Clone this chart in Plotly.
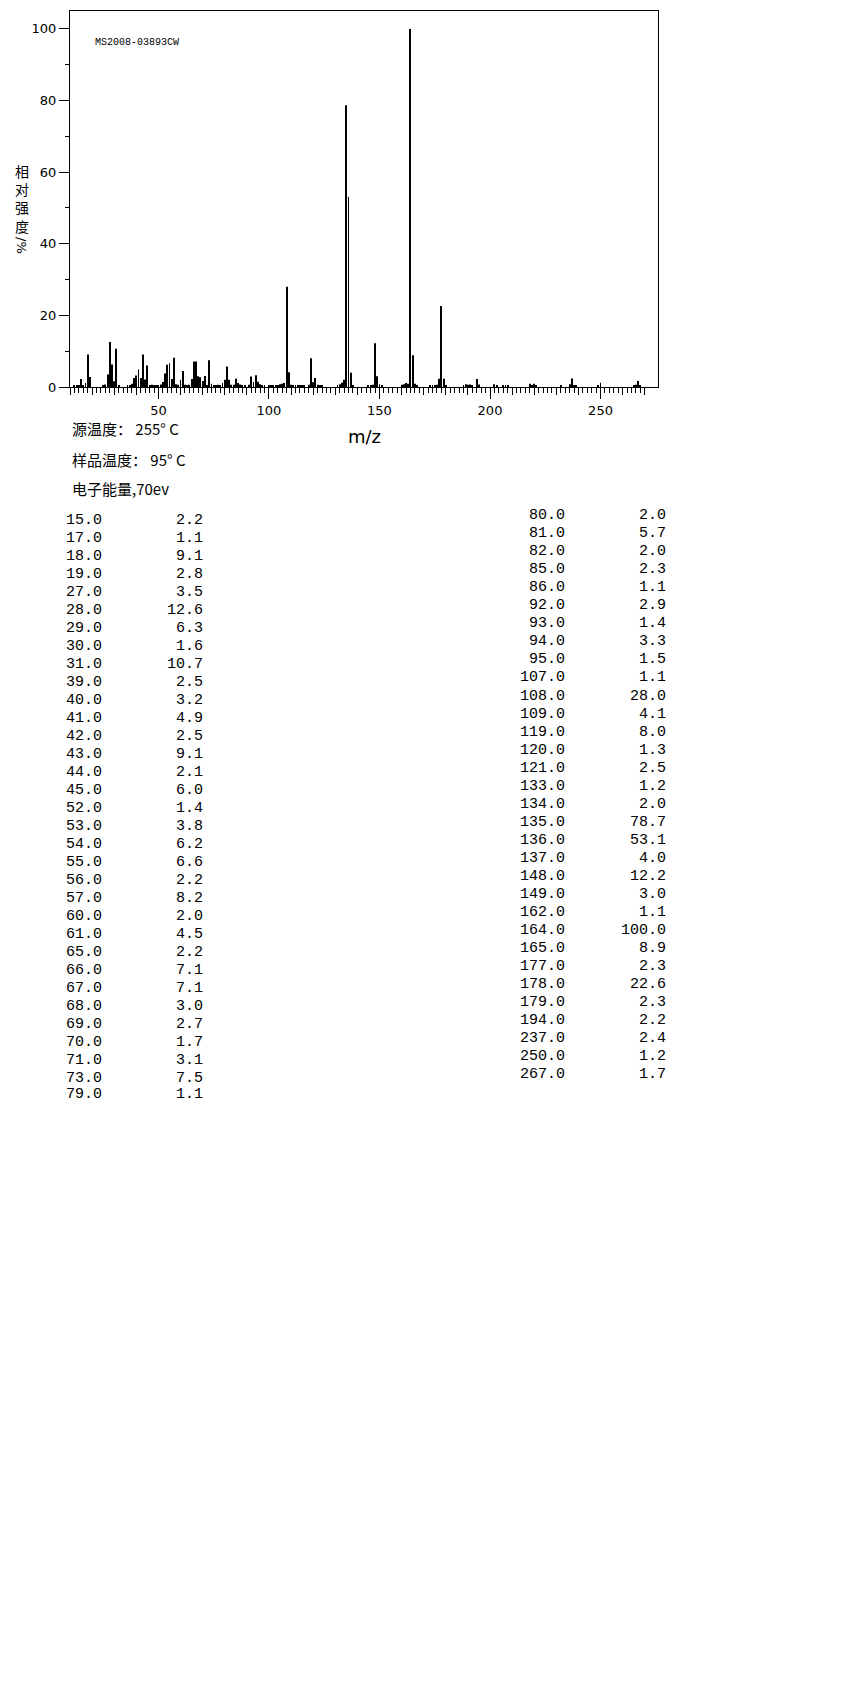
import plotly.graph_objects as go

# peak list as printed in the table (m/z, relative intensity %)
mz_left = [15, 17, 18, 19, 27, 28, 29, 30, 31, 39, 40, 41, 42, 43, 44, 45, 52, 53,
           54, 55, 56, 57, 60, 61, 65, 66, 67, 68, 69, 70, 71, 73, 79]
int_left = [2.2, 1.1, 9.1, 2.8, 3.5, 12.6, 6.3, 1.6, 10.7, 2.5, 3.2, 4.9, 2.5, 9.1, 2.1,
            6.0, 1.4, 3.8, 6.2, 6.6, 2.2, 8.2, 2.0, 4.5, 2.2, 7.1, 7.1, 3.0, 2.7, 1.7,
            3.1, 7.5, 1.1]
mz_right = [80, 81, 82, 85, 86, 92, 93, 94, 95, 107, 108, 109, 119, 120, 121, 133, 134,
            135, 136, 137, 148, 149, 162, 164, 165, 177, 178, 179, 194, 237, 250, 267]
int_right = [2.0, 5.7, 2.0, 2.3, 1.1, 2.9, 1.4, 3.3, 1.5, 1.1, 28.0, 4.1, 8.0, 1.3, 2.5,
             1.2, 2.0, 78.7, 53.1, 4.0, 12.2, 3.0, 1.1, 100.0, 8.9, 2.3, 22.6, 2.3, 2.2,
             2.4, 1.2, 1.7]

# small peaks (< 1 %)
mz_small = [12, 13, 14, 16, 25, 26, 32, 36, 37, 38, 46, 47, 48, 49, 50, 51, 58, 59, 62,
            63, 64, 72, 74, 75, 76, 77, 78, 83, 84, 87, 88, 89, 91, 96, 97, 98, 100, 101,
            102, 103, 104, 105, 106, 110, 111, 112, 113, 114, 115, 116, 118, 122, 123,
            124, 131, 132, 138, 145, 146, 147, 150, 151, 160, 161, 163, 166, 167, 173,
            174, 175, 176, 180, 188, 189, 190, 191, 192, 195, 202, 203, 206, 207, 208,
            218, 219, 220, 221, 232, 236, 238, 239, 249, 265, 266, 268]
int_small = [0.4, 0.4, 0.4, 0.4, 0.3, 0.7, 0.5, 0.4, 0.5, 0.9, 0.5, 0.6, 0.4, 0.5, 0.5,
             0.7, 0.8, 0.6, 0.6, 0.4, 0.6, 0.5, 0.9, 0.4, 0.5, 0.6, 0.5, 0.6, 0.6, 0.7,
             0.4, 0.4, 0.6, 0.8, 0.5, 0.3, 0.4, 0.4, 0.4, 0.5, 0.5, 0.8, 0.9, 0.6, 0.4,
             0.4, 0.4, 0.5, 0.4, 0.4, 0.6, 0.6, 0.4, 0.4, 0.5, 0.8, 0.5, 0.4, 0.4, 0.6,
             0.8, 0.5, 0.6, 0.8, 0.9, 0.9, 0.4, 0.5, 0.4, 0.4, 0.6, 0.4, 0.5, 0.8, 0.6,
             0.7, 0.5, 0.7, 0.8, 0.4, 0.4, 0.4, 0.4, 0.9, 0.5, 0.9, 0.4, 0.4, 0.8, 0.5,
             0.4, 0.4, 0.4, 0.6, 0.5]

y_ticks = [0, 20, 40, 60, 80, 100]
x_ticks = [50, 100, 150, 200, 250]
sample_id = "MS2008-03893CW"
ylabel_chars = ["相", "对", "强", "度"]
info_lines = ["源温度： 255° C", "样品温度： 95° C", "电子能量,70ev"]

mz_all = mz_left + mz_right + mz_small
int_all = int_left + int_right + int_small

# plot area in page pixels; the html body adds an 8px margin around the figure
OFF = 8
L, T, W, H = 70, 11, 588, 376
FIG_W, FIG_H = 850 - OFF, 1701 - OFF


def fx(px):
    return (px - L) / W


def fy(py):
    return (T + H - py) / H


fig = go.Figure()
fig.add_trace(go.Bar(x=mz_all, y=int_all, width=0.4, marker_color="black",
                     marker_line_width=0, hoverinfo="x+y"))
# dummy trace so the overlaid axis with the 10-unit ticks gets drawn
fig.add_trace(go.Scatter(x=[mz_all[0]], y=[0], xaxis="x2", mode="markers",
                         marker_opacity=0, hoverinfo="skip"))

tick_font = dict(family="DejaVu Sans", size=13, color="black")
fig.update_layout(
    width=FIG_W, height=FIG_H,
    margin=dict(l=L - OFF, r=FIG_W - (L - OFF) - W, t=T - OFF,
                b=FIG_H - (T - OFF) - H),
    paper_bgcolor="white", plot_bgcolor="white",
    showlegend=False,
    xaxis=dict(range=[10, 276], showline=True, mirror=True, linecolor="black",
               linewidth=1, showgrid=False, zeroline=False,
               tickmode="array", tickvals=x_ticks, ticks="outside", ticklen=11,
               tickcolor="black", tickfont=tick_font,
               minor=dict(tickmode="array", tickvals=list(range(10, 271, 2)),
                          ticks="outside", ticklen=5, tickcolor="black")),
    xaxis2=dict(range=[10, 276], overlaying="x", anchor="y", side="bottom",
                showline=False, showgrid=False, zeroline=False,
                tickmode="array", tickvals=list(range(10, 271, 10)),
                ticks="outside", ticklen=7, tickcolor="black",
                showticklabels=False),
    yaxis=dict(range=[0, 105], showline=True, mirror=True, linecolor="black",
               linewidth=1, showgrid=False, zeroline=False,
               tickmode="array", tickvals=y_ticks, ticks="outside", ticklen=10,
               tickcolor="black", tickfont=tick_font,
               minor=dict(tickmode="array", tickvals=[10, 30, 50, 70, 90],
                          ticks="outside", ticklen=4, tickcolor="black")),
)

ann = []
ann.append(dict(text=sample_id, x=fx(93), y=fy(42), xanchor="left", yanchor="middle",
                font=dict(family="Liberation Mono", size=10, color="black")))
ann.append(dict(text="<br>".join(ylabel_chars), x=fx(22), y=fy(198), xanchor="center",
                yanchor="middle", align="center",
                font=dict(family="Noto Sans CJK SC", size=14, color="black")))
ann.append(dict(text="/%", x=fx(22), y=fy(245), xanchor="center", yanchor="middle",
                textangle=90, font=dict(family="DejaVu Sans", size=13, color="black")))
ann.append(dict(text="m/z", x=fx(364), y=fy(436), xanchor="center", yanchor="middle",
                font=dict(family="DejaVu Sans", size=18, color="black")))
for i, line in enumerate(info_lines):
    ann.append(dict(text=line, x=fx(70), y=fy([428, 459, 489][i]), xanchor="left",
                    yanchor="middle",
                    font=dict(family="Noto Sans CJK SC", size=15, color="black")))

tab_font = dict(family="Liberation Mono", size=15, color="black")
row_h = 18.03
for i, (m, v) in enumerate(zip(mz_left, int_left)):
    yy = 520 + i * row_h if i < len(mz_left) - 1 else 1094
    ann.append(dict(text=f"{m:.1f}", x=fx(104), y=fy(yy), xanchor="right",
                    yanchor="middle", font=tab_font))
    ann.append(dict(text=f"{v:.1f}", x=fx(205), y=fy(yy), xanchor="right",
                    yanchor="middle", font=tab_font))
for i, (m, v) in enumerate(zip(mz_right, int_right)):
    yy = 515.7 + i * row_h
    ann.append(dict(text=f"{m:.1f}", x=fx(567), y=fy(yy), xanchor="right",
                    yanchor="middle", font=tab_font))
    ann.append(dict(text=f"{v:.1f}", x=fx(668), y=fy(yy), xanchor="right",
                    yanchor="middle", font=tab_font))

for a in ann:
    a.update(xref="paper", yref="paper", showarrow=False)
fig.update_layout(annotations=ann)

fig.write_html("out.html")
